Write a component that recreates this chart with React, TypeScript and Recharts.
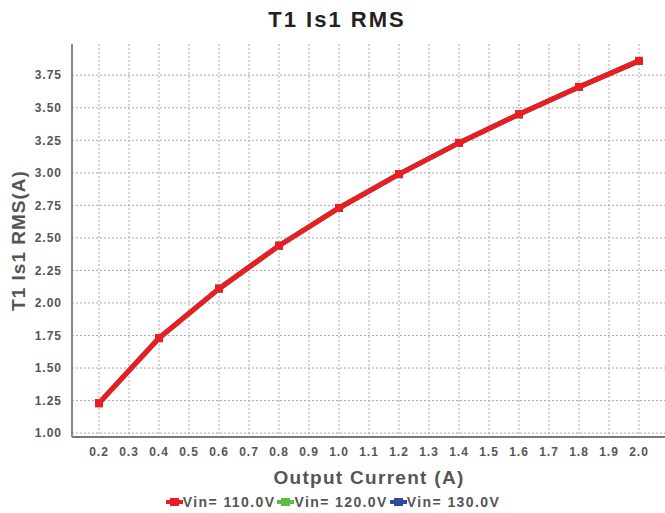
import { LineChart, Line, XAxis, YAxis, CartesianGrid, Label } from 'recharts';

// output current (A)
const currents = [0.2, 0.4, 0.6, 0.8, 1.0, 1.2, 1.4, 1.6, 1.8, 2.0];
// T1 Is1 RMS (A) per input voltage, the three curves sit on top of each other
const vin110 = [1.23, 1.73, 2.11, 2.44, 2.73, 2.99, 3.23, 3.45, 3.66, 3.86];
const vin120 = [1.23, 1.73, 2.11, 2.44, 2.73, 2.99, 3.23, 3.45, 3.66, 3.86];
const vin130 = [1.23, 1.73, 2.11, 2.44, 2.73, 2.99, 3.23, 3.45, 3.66, 3.86];

const xTicks = [0.2, 0.3, 0.4, 0.5, 0.6, 0.7, 0.8, 0.9, 1.0, 1.1, 1.2, 1.3, 1.4, 1.5, 1.6, 1.7, 1.8, 1.9, 2.0];
const yTicks = [1.0, 1.25, 1.5, 1.75, 2.0, 2.25, 2.5, 2.75, 3.0, 3.25, 3.5, 3.75];

const series = [
  { key: 'v110', name: 'Vin= 110.0V', color: '#ec1c24' },
  { key: 'v120', name: 'Vin= 120.0V', color: '#5dbb46' },
  { key: 'v130', name: 'Vin= 130.0V', color: '#2e4d9e' },
];

const data = currents.map((x, i) => ({ x, v110: vin110[i], v120: vin120[i], v130: vin130[i] }));

const FONT = '"Liberation Sans", Arial, sans-serif';
const tickStyle = { fill: '#555', fontSize: 12, fontWeight: 700, fontFamily: FONT, letterSpacing: 1 };

const squareDot = (color: string) => (props: any) => {
  const { cx, cy, index } = props;
  if (cx == null || cy == null) return <g key={index} />;
  return <rect key={index} x={cx - 4} y={cy - 4} width={8} height={8} fill={color} />;
};

export default function App() {
  // draw red last so it sits on top, like the original
  const drawOrder = [...series].reverse();

  return (
    <div style={{ position: 'relative', width: 665, height: 513, overflow: 'hidden', fontFamily: FONT }}>
      <style>{'body{margin:0}'}</style>
      <div
        style={{
          position: 'absolute', top: 7, left: 0, width: 674, textAlign: 'center',
          fontSize: 22, fontWeight: 700, color: '#222', letterSpacing: 2,
        }}
      >
        T1 Is1 RMS
      </div>

      <LineChart width={680} height={513} data={data} margin={{ top: 44, right: 14, bottom: 26, left: 0 }}>
        <CartesianGrid stroke="#aaa" strokeDasharray="2 2" horizontalValues={yTicks} verticalValues={xTicks} />
        <XAxis
          dataKey="x"
          type="number"
          domain={[0.11, 2.09]}
          ticks={xTicks}
          tickFormatter={(v: number) => v.toFixed(1)}
          tick={tickStyle}
          tickLine={false}
          tickSize={0}
          tickMargin={10}
          axisLine={{ stroke: '#777', strokeWidth: 2 }}
          height={50}
          interval={0}
        >
          <Label
            value="Output Current (A)"
            position="insideBottom"
            offset={3}
            style={{ fill: '#555', fontSize: 19, fontWeight: 700, fontFamily: FONT, letterSpacing: 1.3 }}
          />
        </XAxis>
        <XAxis
          xAxisId="top"
          orientation="top"
          type="number"
          domain={[0.11, 2.09]}
          tick={false}
          tickLine={false}
          height={0}
          axisLine={{ stroke: '#222', strokeWidth: 2 }}
        />
        <YAxis
          type="number"
          domain={[0.97, 3.99]}
          ticks={yTicks}
          tickFormatter={(v: number) => v.toFixed(2)}
          tick={tickStyle}
          tickLine={false}
          tickSize={0}
          tickMargin={10}
          axisLine={{ stroke: '#888', strokeWidth: 2 }}
          width={72}
          interval={0}
        >
          <Label
            value="T1 Is1 RMS(A)"
            angle={-90}
            position="insideLeft"
            offset={18}
            style={{ textAnchor: 'middle', fill: '#555', fontSize: 19, fontWeight: 700, fontFamily: FONT, letterSpacing: 1 }}
          />
        </YAxis>
        {drawOrder.map((s) => (
          <Line
            key={s.key}
            dataKey={s.key}
            name={s.name}
            type="linear"
            stroke={s.color}
            strokeWidth={5}
            dot={squareDot(s.color)}
            activeDot={false}
            isAnimationActive={false}
          />
        ))}
      </LineChart>

      <div
        style={{
          position: 'absolute', top: 494, left: 0, width: 668, display: 'flex', justifyContent: 'center',
          fontSize: 14, fontWeight: 700, color: '#555', letterSpacing: 1.4,
        }}
      >
        {series.map((s) => (
          <div key={s.key} style={{ display: 'flex', alignItems: 'center', marginRight: 2 }}>
            <svg width={17} height={10}>
              <line x1={0} y1={5} x2={17} y2={5} stroke={s.color} strokeWidth={4} />
              <rect x={4} y={1} width={9} height={8} fill={s.color} />
            </svg>
            <span>{s.name}</span>
          </div>
        ))}
      </div>
    </div>
  );
}
